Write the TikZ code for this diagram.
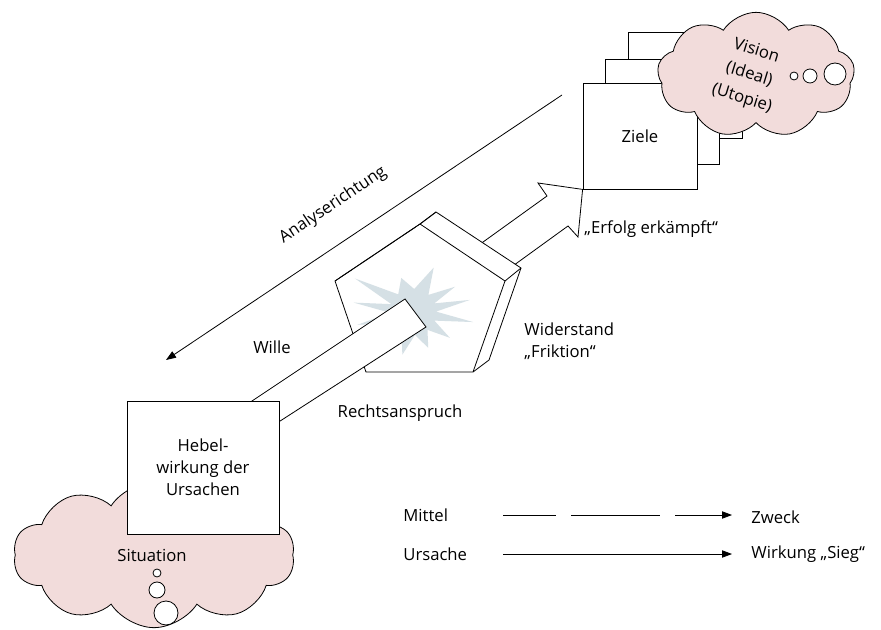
\documentclass[tikz,border=0pt]{standalone}
\usepackage{fontspec}
\setmainfont{Open Sans}
\usetikzlibrary{shapes.symbols,arrows.meta}
\definecolor{cloudpink}{HTML}{F2DCDB}
\definecolor{burstgrey}{HTML}{D5E0E5}
\tikzset{
  box/.style={draw, fill=white, inner sep=0pt, align=center, font=\fontsize{12.5}{16.5}\selectfont},
  thought/.style={cloud, cloud puffs=10, cloud puff arc=115, draw, fill=cloudpink},
  bubble/.style={circle, draw, fill=white, inner sep=0pt},
  lbl/.style={inner sep=0pt, align=center, font=\fontsize{12.5}{16.5}\selectfont},
  tip/.style={-{Triangle[length=7.5pt,width=5.5pt]}}
}

\begin{document}
\begin{tikzpicture}[x=0.75pt,y=-0.75pt,line width=0.6pt]
			\useasboundingbox (0,0) rectangle (881,630);
			% Situation
			\node (situation) [thought, minimum width=211pt, minimum height=109pt] at (154,555) {};
			\node (sit) [lbl] at (152,555) {Situation};
			\node (s1) [bubble, minimum size=6pt] at (157,573) {};
			\node (s2) [bubble, minimum size=12pt] at (157,590) {};
			\node (s3) [bubble, minimum size=18pt] at (166,613) {};
			% Ziele, stacked
			\foreach \x/\y/\n in {685/85.5/z3, 662.5/112/z2}{
					\node (\n) [box, minimum width=85.5pt, minimum height=79pt] at (\x,\y) {};
				}
			\node (ziele) [box, minimum width=85.5pt, minimum height=79.5pt] at (640,136) {Ziele};
			% Vision
			\node (vision) [thought, cloud puffs=9, minimum width=148pt, minimum height=94pt] at (756,75) {};
			\node (vis) [lbl, font=\fontsize{12.5}{18.5}\selectfont, rotate=-17] at (749,75) {Vision\\(Ideal)\\(Utopie)};
			\node (v1) [bubble, minimum size=6pt] at (794,76) {};
			\node (v2) [bubble, minimum size=10.5pt] at (810,76) {};
			\node (v3) [bubble, minimum size=16.5pt] at (835,74) {};
			% Analyserichtung
			\coordinate (a0) at (562,95);
			\coordinate (a1) at (166,360);
			\draw [tip] (a0) -- (a1);
			\node (ana) [lbl, rotate=33.7] at (333,205) {Analyserichtung};
			% Erfolg
			\draw [fill=white] (440,273) -- (547,196) -- (538,183) -- (ziele.south west) -- (578,237) -- (568,226) -- (470,297);
			% Widerstand
			\draw [fill=white] (335,281) -- (420,224) -- (436,212) -- (521,268) -- (489,360) -- (473,372) -- (366,372) -- cycle;
			\draw (335,281) -- (420,224) -- (505,281) -- (473,372);
			\draw (420,224) -- (436,212);
			\draw (505,281) -- (521,268);
			\coordinate (burst) at (413,312);
			\fill [burstgrey, shift={(burst)}] (359:23)
				\foreach \a/\r/\b in {9.5/61/22, 35/45/51, 67/39/85, 104/44/120, 135/46/151, 167/57/178, 189/60/200, 210/67/230, 251/36/273, 295/49/312, 329/49/338, 348/58/359}{
					-- (\a:\r) -- (\b:23)
				} -- cycle;
			% Wille
			\draw [fill=white] (222,421) -- (405,299) -- (426,327) -- (246,443);
			\node (hebel) [box, minimum width=114pt, minimum height=99.75pt] at (203,467.5) {Hebel-\\wirkung der\\Ursachen};
			%
			\node (wille) [lbl] at (272,347) {Wille};
			\node (recht) [lbl] at (400,413) {Rechtsanspruch};
			\node (wid) [lbl, anchor=west, align=left] at (524,341) {Widerstand\\„Friktion“};
			\node (erfolg) [lbl, anchor=west] at (584,229) {„Erfolg erkämpft“};
			% Legende
			\node (mittel) [lbl, anchor=west] at (403,515) {Mittel};
			\node (ursache) [lbl, anchor=west] at (403,554) {Ursache};
			\node (zweck) [lbl, anchor=west] at (751,517) {Zweck};
			\node (wirkung) [lbl, anchor=west] at (751,554) {Wirkung „Sieg“};
			\coordinate (m0) at (503,515);
			\coordinate (m1) at (732,515);
			\coordinate (u0) at (503,554);
			\coordinate (u1) at (732,554);
			\draw [tip, dash pattern=on 39.75pt off 11.25pt on 66.75pt off 11.25pt on 60pt off 0pt] (m0) -- (m1);
			\draw [tip] (u0) -- (u1);
		\end{tikzpicture}
\end{document}
